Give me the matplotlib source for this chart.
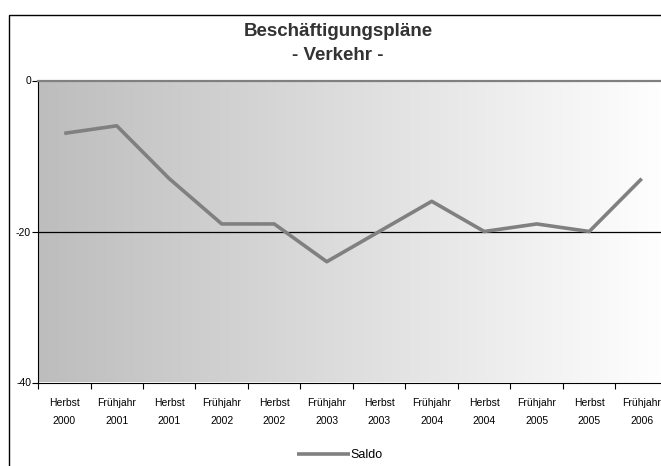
import numpy as np
import matplotlib
matplotlib.use('Agg')
import matplotlib.pyplot as plt
from matplotlib.patches import Rectangle

plt.rcParams['font.family'] = ['Liberation Sans', 'DejaVu Sans']

# Data
seasons = ['Herbst', 'Frühjahr', 'Herbst', 'Frühjahr', 'Herbst', 'Frühjahr',
           'Herbst', 'Frühjahr', 'Herbst', 'Frühjahr', 'Herbst', 'Frühjahr']
years = ['2000', '2001', '2001', '2002', '2002', '2003',
         '2003', '2004', '2004', '2005', '2005', '2006']
saldo = [-7, -6, -13, -19, -19, -24, -20, -16, -20, -19, -20, -13]

W, H = 661, 466
fig = plt.figure(figsize=(W / 100, H / 100), dpi=100)

# outer chart frame (cut off at right and bottom)
fig.patches.append(Rectangle((8.5 / W, -0.1), 1.2, 1.1 - 14.5 / H,
                             transform=fig.transFigure, fill=False,
                             edgecolor='black', linewidth=1.0))

ax = fig.add_axes([38 / W, 1 - 382.5 / H, 630 / W, (382.5 - 80.5) / H])

n = len(saldo)
x = np.arange(n)
ax.set_xlim(-0.5, n - 0.5)
ax.set_ylim(-40, 0)

# grey-to-white gradient background
grad = np.linspace(0, 1, 256).reshape(1, -1)
cmap = matplotlib.colors.LinearSegmentedColormap.from_list('g', ['#bdbdbd', '#ffffff'])
ax.imshow(grad, extent=[-0.5, n - 0.5, -40, 0], aspect='auto', cmap=cmap, zorder=0)

ax.axhline(-20, color='black', linewidth=0.9, zorder=1)
ax.plot(x, saldo, color='#808080', linewidth=2.6, solid_capstyle='butt',
        label='Saldo', zorder=2)

ax.set_yticks([-40, -20, 0])
ax.set_yticklabels(['-40', '-20', '0'], fontsize=7.5)
ax.set_xticks(np.arange(-0.5, n, 1.0))
ax.set_xticklabels([])
ax.set_xticks(x, minor=True)
ax.set_xticklabels([s + '\n' + y for s, y in zip(seasons, years)], minor=True,
                   fontsize=7.5, linespacing=2.0)
ax.tick_params(axis='x', which='major', length=4, width=0.8, direction='out')
ax.tick_params(axis='x', which='minor', length=0, pad=11)
ax.tick_params(axis='y', length=4, width=0.8, direction='out', pad=1)

ax.spines['left'].set_color('black')
ax.spines['bottom'].set_color('black')
ax.spines['top'].set_color('#808080')
ax.spines['top'].set_linewidth(1.6)
ax.spines['right'].set_visible(False)

fig.text(338 / W, 1 - 32 / H, 'Beschäftigungspläne', ha='center', va='center',
         fontsize=13.5, fontweight='bold', color='#333333')
fig.text(338 / W, 1 - 55 / H, '- Verkehr -', ha='center', va='center',
         fontsize=13.5, fontweight='bold', color='#333333')

fig.legend(loc='center', bbox_to_anchor=(340 / W, 1 - 455 / H), frameon=False,
           fontsize=9, handlelength=4.2, handletextpad=0.1)

fig.savefig('out.png', dpi=100)
